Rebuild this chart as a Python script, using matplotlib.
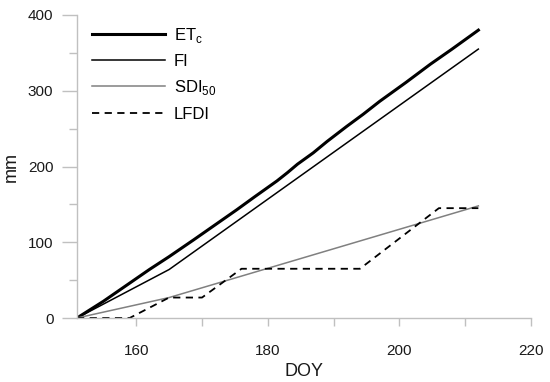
import numpy as np
import matplotlib
matplotlib.use('Agg')
import matplotlib.pyplot as plt
from matplotlib.ticker import MultipleLocator

plt.rcParams['font.family'] = ['Liberation Sans', 'DejaVu Sans']
plt.rcParams['mathtext.fontset'] = 'custom'
plt.rcParams['mathtext.rm'] = 'Liberation Sans'

# valeurs
doy_etc = [151, 155, 158, 162, 165, 168.7, 172, 175.3, 178, 181.4, 183, 184.5, 186.9,
           189, 192, 194.5, 197, 201, 204.7, 208, 212]
etc = [0, 22, 40, 64, 81, 103, 123, 143, 160, 181, 192, 203, 218,
       233, 253, 269, 286, 311, 335, 355, 380]

doy_fi = [151, 165, 212]
fi = [0, 64, 355]

doy_sdi = [151, 165, 212]
sdi50 = [0, 27, 148]

doy_lfdi = [151, 159, 165, 170, 176, 194, 206, 212]
lfdi = [0, 0, 27, 27, 65, 65, 145, 145]

grey = '#c0c0c0'

fig = plt.figure(figsize=(5.5, 3.82), dpi=100)
ax = fig.add_axes([77/550, 1 - 318/382, (531 - 77)/550, (318 - 15)/382])

ax.plot(doy_etc, etc, color='black', lw=2.2, label=r'ET$_\mathregular{c}$')
ax.plot(doy_fi, fi, color='black', lw=1.1, label='FI')
ax.plot(doy_sdi, sdi50, color='#808080', lw=1.1, label=r'SDI$_\mathregular{50}$')
ax.plot(doy_lfdi, lfdi, color='black', lw=1.3, dashes=(4, 3), label='LFDI')

ax.set_xlim(151, 220)
ax.set_ylim(0, 400)
ax.xaxis.set_major_locator(MultipleLocator(20))
ax.xaxis.set_minor_locator(MultipleLocator(10))
ax.yaxis.set_major_locator(MultipleLocator(100))
ax.yaxis.set_minor_locator(MultipleLocator(50))

for s in ['top', 'right']:
    ax.spines[s].set_visible(False)
for s in ['left', 'bottom']:
    ax.spines[s].set_color(grey)
    ax.spines[s].set_linewidth(1.0)

ax.tick_params(axis='x', which='both', direction='out', length=6, width=1,
               color=grey, pad=13, labelsize=11, labelcolor='#1a1a1a')
ax.tick_params(axis='y', which='major', direction='out', length=11, width=1,
               color=grey, pad=6, labelsize=11, labelcolor='#1a1a1a')
ax.tick_params(axis='y', which='minor', direction='out', length=5.5, width=1,
               color=grey)

ax.set_xlabel('DOY', fontsize=13, labelpad=3, color='#1a1a1a')
ax.set_ylabel('mm', fontsize=13, labelpad=6, color='#1a1a1a')

ax.legend(loc='upper left', bbox_to_anchor=(0.034, 0.965), frameon=False,
          fontsize=12, handlelength=4.35, handletextpad=0.54,
          labelspacing=0.56, borderaxespad=0, borderpad=0)

plt.savefig('out.png', dpi=100)
